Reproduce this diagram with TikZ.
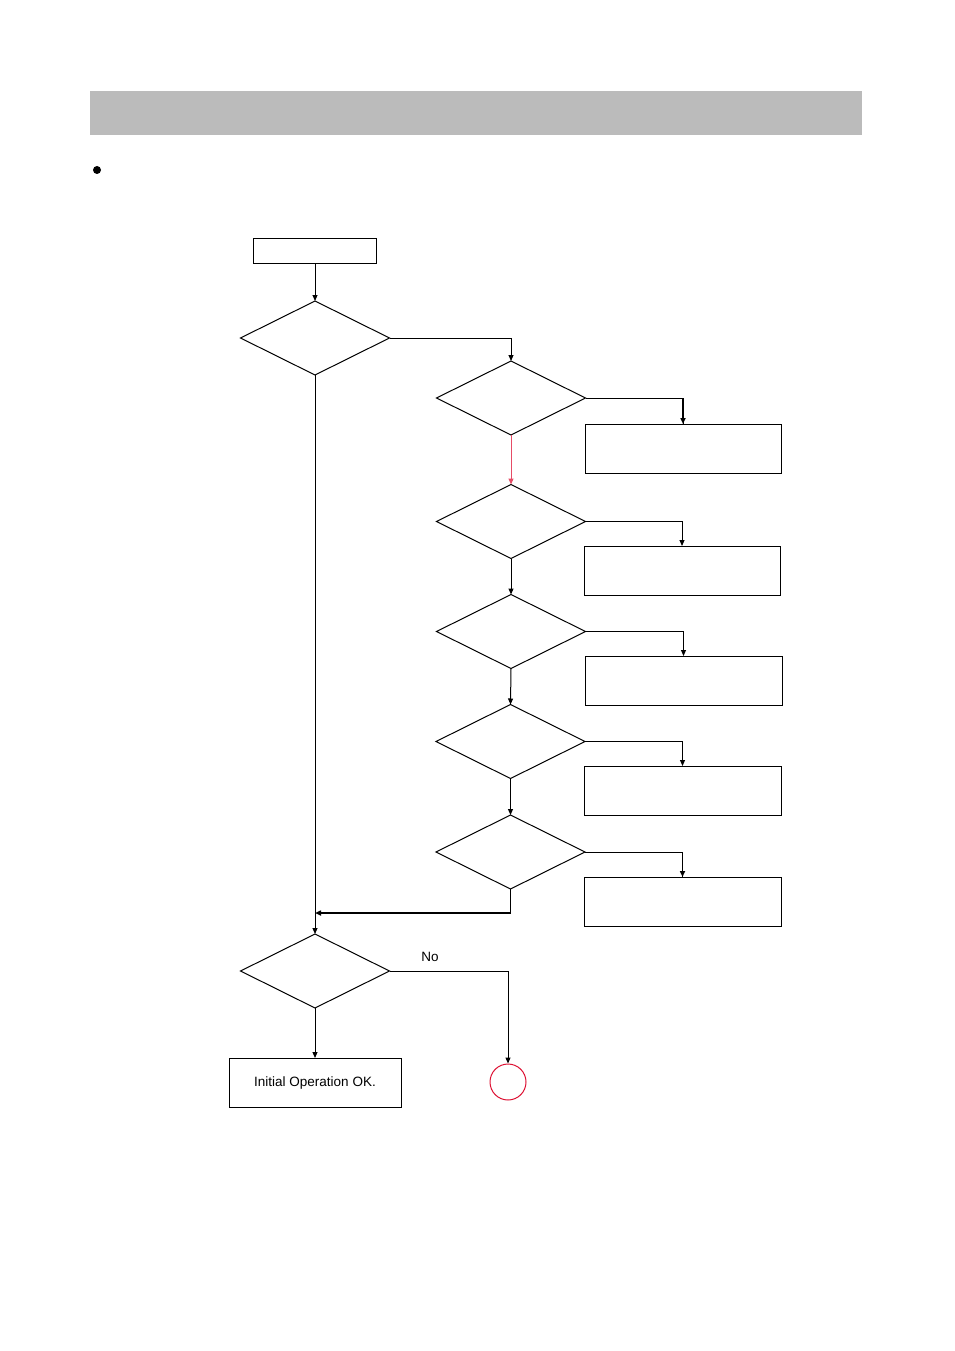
\documentclass[tikz,border=0pt]{standalone}
\usepackage{fontspec}
\setmainfont{Liberation Sans}
\usetikzlibrary{arrows.meta,shapes.geometric}
\definecolor{barg}{HTML}{BBBBBB}
\definecolor{redc}{HTML}{DD1133}
\begin{document}
\begin{tikzpicture}[x=1pt,y=-1pt,
  line width=1pt,
  box/.style={draw,rectangle,minimum width=#1,minimum height=49pt,inner sep=0pt,outer sep=0pt},
  dec/.style={draw,diamond,aspect=2.02,minimum width=149pt,minimum height=74pt,inner sep=0pt,outer sep=0pt},
  arr/.style={-{Triangle[length=6pt,width=5pt]}},
  txt/.style={font=\fontsize{13.5}{15}\selectfont}]
\useasboundingbox (0,0) rectangle (954,1351);
\fill[barg] (90,91) rectangle (862,135);
\fill (97,170) circle (4);
% nodes
\node[draw,rectangle,minimum width=123pt,minimum height=25pt,inner sep=0pt] (start) at (315,250.5) {};
\node[dec] (d1) at (315,338) {};
\node[dec] (d2) at (511,398) {};
\node[dec] (d3) at (511,521.5) {};
\node[dec] (d4) at (511,631.5) {};
\node[dec] (d5) at (510.5,741.5) {};
\node[dec] (d6) at (510.5,852) {};
\node[dec] (d7) at (315,971) {};
\node[box=196pt] (b1) at (683,448.5) {};
\node[box=196pt] (b2) at (682,570.5) {};
\node[box=197pt] (b3) at (683.5,680.5) {};
\node[box=197pt] (b4) at (682.5,790.5) {};
\node[box=197pt] (b5) at (682.5,901.5) {};
\node[box=172pt,txt] (ok) at (315,1082.5) {Initial Operation OK.};
\node[draw=redc,circle,minimum size=36pt,inner sep=0pt] (c) at (508,1082) {};
\coordinate (j) at (315,913);
% connectors
\draw[arr] (start.south) -- (d1.north);
\draw[arr] (d1.east) -| (d2.north);
\draw (d2.east) -| (b1.north);
\draw[arr,line width=1.8pt] (b1.north |- d2.east) -- (b1.north);
\draw[arr,draw=redc!75,fill=redc] (d2.south) -- (d3.north);
\draw[arr] (d3.east) -| (b2.north);
\draw[arr] (d3.south) -- (d4.north);
\draw[arr] (d4.east) -| (b3.north);
\draw[arr] (d4.south) -- (d5.north);
\draw[arr] (d5.east) -| (b4.north);
\draw[arr] (d5.south) -- (d6.north);
\draw (d6.east) -| (b5.north);
\draw[arr,line width=1.8pt] (b5.north |- d6.east) -- (b5.north);
\draw (d6.south) -- (d6.south |- j);
\draw[arr,line width=1.8pt] (d6.south |- j) -- (j);
\draw[arr] (d1.south) -- (d7.north);
\draw[arr] (d7.east) -| (c.north);
\draw[arr] (d7.south) -- (ok.north);
\node[txt] at (430,957) {No};
\end{tikzpicture}
\end{document}
